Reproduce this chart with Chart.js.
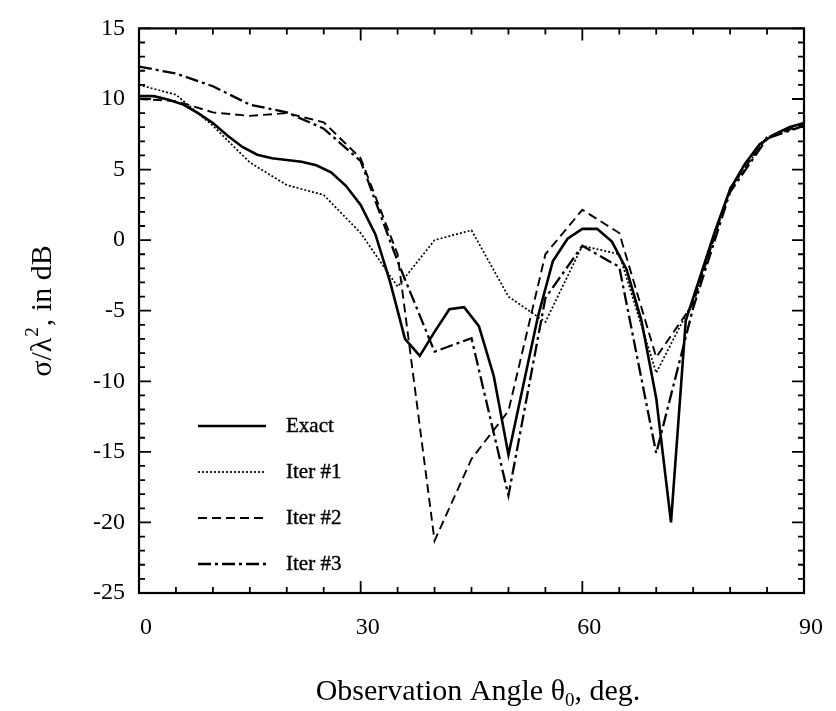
<!DOCTYPE html>
<html>
<head>
<meta charset="utf-8">
<script src="https://cdn.jsdelivr.net/npm/chart.js@4.4.1/dist/chart.umd.min.js"></script>
<style>
  body { margin: 0; background: #fff; }
  #grafik { display: block; }
</style>
</head>
<body>
<canvas id="grafik" width="836" height="711"></canvas>
<script>
// data
const sudutExact = [0, 2, 4, 6, 8, 10, 12, 14, 16, 18, 20, 22, 24, 26, 28, 30, 32, 34, 36, 38, 40, 42, 44,
  46, 48, 50, 52, 54, 56, 58, 60, 62, 64, 66, 68, 70, 72, 74, 76, 78, 80, 82, 84, 86, 88, 90];
const nilaiExact = [10.2, 10.2, 9.95, 9.6, 9.0, 8.3, 7.4, 6.6, 6.05, 5.8, 5.68, 5.55, 5.3, 4.8, 3.85, 2.5, 0.4, -3.0,
  -7.0, -8.2, -6.5, -4.9, -4.75, -6.1, -9.6, -15.2, -10.3, -5.4, -1.5, 0.1, 0.8, 0.8, -0.1, -2.1, -5.7, -11.2,
  -20.0, -5.7, -2.5, 0.7, 3.6, 5.4, 6.8, 7.5, 8.0, 8.3];

const sudutIter = [0, 5, 10, 15, 20, 25, 30, 35, 40, 45, 50, 55, 60, 65, 70, 75, 80, 85, 90];
const iter1 = [11.0, 10.3, 8.1, 5.5, 3.9, 3.2, 0.5, -3.3, 0.0, 0.7, -4.0, -5.8, -0.4, -1.0, -9.4, -4.3, 3.6, 7.3, 8.1];
const iter2 = [10.0, 9.85, 9.05, 8.8, 9.0, 8.35, 5.8, -1.0, -21.3, -15.5, -12.1, -1.0, 2.15, 0.5, -8.3, -4.5, 3.7, 7.3, 8.2];
const iter3 = [12.3, 11.8, 10.9, 9.6, 9.05, 7.9, 5.6, -1.5, -7.9, -6.95, -18.1, -4.1, -0.4, -1.9, -15.1, -4.8, 3.4, 7.2, 8.1];

const xTicks = [0, 30, 60, 90];
const yTicks = [-25, -20, -15, -10, -5, 0, 5, 10, 15];

const FONT = '"Liberation Serif", "Times New Roman", serif';

function jadiTitik(xs, ys) {
  return xs.map((x, i) => ({ x: x, y: ys[i] }));
}

// kotak dan tick ke dalam di keempat sisi
const bingkai = {
  id: 'bingkai',
  afterDraw(chart) {
    const { ctx, chartArea: a, scales } = chart;
    const sx = scales.x, sy = scales.y;
    ctx.save();
    ctx.strokeStyle = '#000';
    ctx.lineWidth = 2.2;
    ctx.strokeRect(a.left, a.top, a.right - a.left, a.bottom - a.top);
    ctx.lineWidth = 1.8;
    ctx.beginPath();
    for (let v = 0; v <= 90; v += 5) {
      const px = sx.getPixelForValue(v);
      const len = v % 30 === 0 ? 12 : 6;
      ctx.moveTo(px, a.bottom); ctx.lineTo(px, a.bottom - len);
      ctx.moveTo(px, a.top); ctx.lineTo(px, a.top + len);
    }
    for (let v = -25; v <= 15; v++) {
      const py = sy.getPixelForValue(v);
      const len = v % 5 === 0 ? 12 : 6;
      ctx.moveTo(a.left, py); ctx.lineTo(a.left + len, py);
      ctx.moveTo(a.right, py); ctx.lineTo(a.right - len, py);
    }
    ctx.stroke();
    ctx.restore();
  }
};

// legenda di dalam area plot
const legenda = {
  id: 'legenda',
  afterDatasetsDraw(chart) {
    const ctx = chart.ctx;
    ctx.save();
    ctx.font = '21px ' + FONT;
    ctx.fillStyle = '#000';
    ctx.textBaseline = 'middle';
    chart.data.datasets.forEach((ds, i) => {
      const y = 426 + i * 46;
      ctx.strokeStyle = '#000';
      ctx.lineWidth = ds.borderWidth;
      ctx.setLineDash(ds.borderDash || []);
      ctx.beginPath();
      ctx.moveTo(198, y);
      ctx.lineTo(266, y);
      ctx.stroke();
      ctx.setLineDash([]);
      ctx.fillText(ds.label, 286, y);
      ctx.lineWidth = 0.4;
      ctx.strokeText(ds.label, 286, y);
    });
    ctx.restore();
  }
};

// judul sumbu (dengan subscript / superscript)
const judul = {
  id: 'judul',
  afterDraw(chart) {
    const ctx = chart.ctx;
    ctx.save();
    ctx.fillStyle = '#000';
    ctx.textBaseline = 'alphabetic';

    // sumbu x
    const besar = '30px ' + FONT, kecil = '19px ' + FONT;
    const a1 = 'Observation Angle \u03b8', sub = '0', a2 = ', deg.';
    ctx.font = besar; const w1 = ctx.measureText(a1).width, w3 = ctx.measureText(a2).width;
    ctx.font = kecil; const w2 = ctx.measureText(sub).width;
    let x = 478 - (w1 + w2 + w3) / 2;
    const by = 700;
    ctx.font = besar; ctx.fillText(a1, x, by); x += w1;
    ctx.font = kecil; ctx.fillText(sub, x, by + 6); x += w2;
    ctx.font = besar; ctx.fillText(a2, x, by);

    // sumbu y
    const b1 = '\u03c3/\u03bb', sup = '2', b2 = ', in dB';
    ctx.font = besar; const v1 = ctx.measureText(b1).width, v3 = ctx.measureText(b2).width;
    ctx.font = kecil; const v2 = ctx.measureText(sup).width;
    ctx.translate(51, 312);
    ctx.rotate(-Math.PI / 2);
    let t = -(v1 + v2 + v3) / 2;
    ctx.font = besar; ctx.fillText(b1, t, 0); t += v1;
    ctx.font = kecil; ctx.fillText(sup, t + 1, -13); t += v2 + 2;
    ctx.font = besar; ctx.fillText(b2, t, 0);
    ctx.restore();
  }
};

const grafik = document.getElementById('grafik').getContext('2d');
new Chart(grafik, {
  type: 'line',
  data: {
    datasets: [
      { label: 'Exact', data: jadiTitik(sudutExact, nilaiExact), borderColor: '#000', borderWidth: 2.6, borderDash: [] },
      { label: 'Iter #1', data: jadiTitik(sudutIter, iter1), borderColor: '#000', borderWidth: 1.7, borderDash: [2, 2] },
      { label: 'Iter #2', data: jadiTitik(sudutIter, iter2), borderColor: '#000', borderWidth: 1.9, borderDash: [9, 5] },
      { label: 'Iter #3', data: jadiTitik(sudutIter, iter3), borderColor: '#000', borderWidth: 2.3, borderDash: [13, 4, 3, 4] }
    ]
  },
  options: {
    responsive: false,
    animation: false,
    events: [],
    layout: { padding: { top: 14, right: 23, left: 0, bottom: 0 } },
    elements: { point: { radius: 0 }, line: { tension: 0, fill: false } },
    plugins: { legend: { display: false }, tooltip: { enabled: false } },
    scales: {
      x: {
        type: 'linear', min: 0, max: 90,
        grid: { display: false, drawTicks: false },
        border: { display: false },
        afterBuildTicks: s => { s.ticks = xTicks.map(v => ({ value: v })); },
        afterFit: s => { s.height = 118; },
        ticks: { color: '#000', font: { family: FONT, size: 24 }, padding: 20, labelOffset: 7, maxRotation: 0 }
      },
      y: {
        min: -25, max: 15,
        grid: { display: false, drawTicks: false },
        border: { display: false },
        afterBuildTicks: s => { s.ticks = yTicks.map(v => ({ value: v })); },
        afterFit: s => { s.width = 139; },
        ticks: { color: '#000', font: { family: FONT, size: 24 }, padding: 14 }
      }
    }
  },
  plugins: [bingkai, legenda, judul]
});
</script>
</body>
</html>
